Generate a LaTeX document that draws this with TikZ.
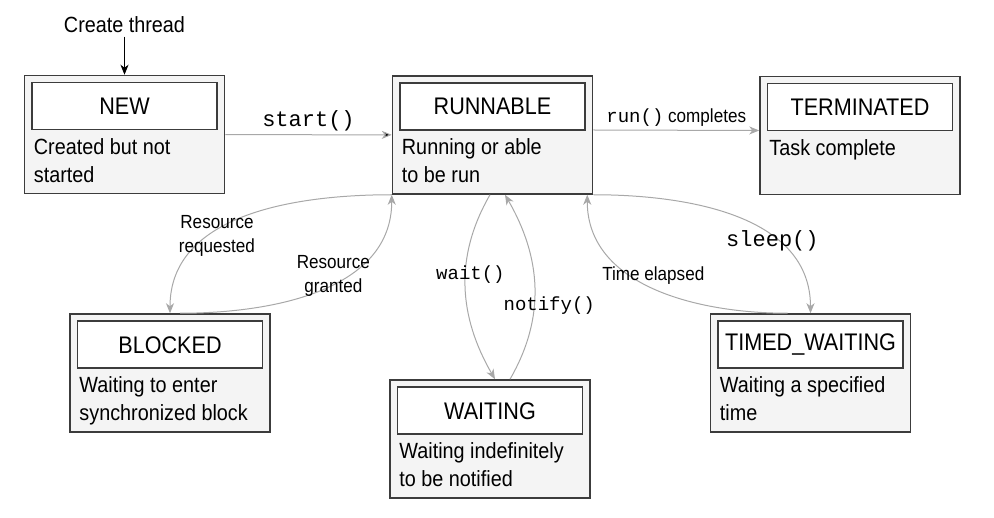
\documentclass[tikz,border=0pt]{standalone}
\usepackage{fontspec}
\setmainfont[FakeStretch=0.9]{Liberation Sans}
\setmonofont{Liberation Mono}
\usepackage{xcolor}
\definecolor{boxline}{RGB}{60,60,60}
\definecolor{boxfill}{RGB}{244,244,244}
\definecolor{flowgray}{RGB}{168,168,168}
\usetikzlibrary{arrows.meta}
\usetikzlibrary{calc}
\newcommand{\threadstate}[4]{%
  \node[statebox] (#1) at (#2) {};
  \node[titlebox] (#1-t) at ([yshift=-31.5pt]#1.north) {#3};
  \node[statetext] (#1-d) at ([xshift=10pt,yshift=-63.5pt]#1.north west) {#4};
}

\begin{document}
\begin{tikzpicture}[x=1pt, y=1pt,
    >={Stealth[length=10pt,width=8pt,inset=3pt]},
    statebox/.style={draw=boxline, fill=boxfill, line width=1.5pt,
      minimum width=200pt, minimum height=118pt, inner sep=0pt},
    titlebox/.style={draw=boxline, fill=white, line width=1.5pt,
      minimum width=185pt, minimum height=47pt, inner sep=0pt,
      font=\fontsize{24}{28}\selectfont},
    statetext/.style={anchor=north west, inner sep=0pt, align=left,
      font=\fontsize{22}{28}\selectfont},
    flow/.style={->, draw=flowgray, line width=1pt},
    lbl/.style={align=center, font=\fontsize{19}{24}\selectfont},
    codelbl/.style={font=\fontsize{22}{26}\selectfont\ttfamily}]
  \useasboundingbox (0,0) rectangle (994,-518);

  \threadstate{new}{124.5,-134.5}{NEW}{Created but not\\started}
  \threadstate{run}{492.5,-135}{RUNNABLE}{Running or able\\to be run}
  \threadstate{term}{860,-135.5}{TERMINATED}{Task complete}
  \threadstate{blk}{170,-373}{BLOCKED}{Waiting to enter\\synchronized block}
  \threadstate{wait}{490,-439}{WAITING}{Waiting indefinitely\\to be notified}
  \threadstate{tw}{810.5,-373}{TIMED\_WAITING}{Waiting a specified\\time}

  \node[font=\fontsize{22}{26}\selectfont] (create) at (124.5,-25) {Create thread};
  \draw[->, line width=1pt] (create) -- (new);

  \path[flow] (new) edge node[above, codelbl] {start()} (run);
  \draw[flow] ([yshift=5pt]run.east) -- node[above, lbl] {{\ttfamily run()} completes} ([yshift=5pt]term.west);

  \draw[flow] (run.south west) to[out=180, in=90]
    node[pos=.65, xshift=8pt, lbl] {Resource\\requested} (blk.north);
  \draw[flow] ([xshift=10pt]blk.north) to[out=0, in=-90]
    node[pos=.55, yshift=8pt, lbl] {Resource\\granted} (run.south west);

  \draw[flow] ([xshift=-2.5pt]run.south) to[out=-120, in=120]
    node[pos=.43, xshift=5pt, lbl, font=\fontsize{19}{24}\selectfont\ttfamily] {wait()} ([xshift=5pt]wait.north);
  \draw[flow] ([xshift=20pt]wait.north) to[out=60, in=-60]
    node[pos=.4, xshift=15pt, lbl, font=\fontsize{19}{24}\selectfont\ttfamily] {notify()} ([xshift=12.5pt]run.south);

  \draw[flow] (run.south east) to[out=0, in=90]
    node[pos=.65, yshift=-4pt, codelbl] {sleep()} (tw.north);
  \draw[flow] ([xshift=-23pt]tw.north) to[out=180, in=-90]
    node[pos=.5, yshift=12pt, lbl] {Time elapsed} ([xshift=-6pt]run.south east);
\end{tikzpicture}
\end{document}
